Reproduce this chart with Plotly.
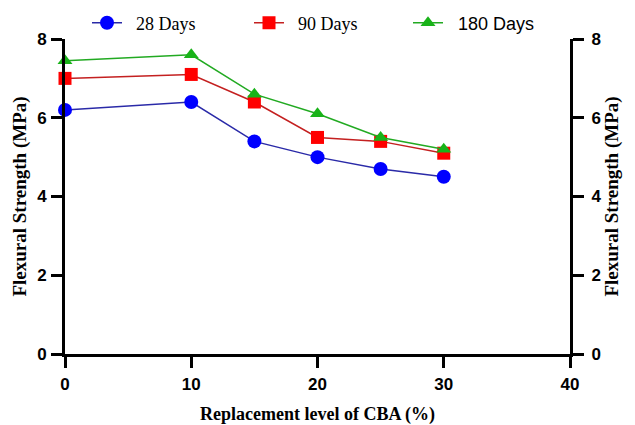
import plotly.graph_objects as go

replacement = [0, 10, 15, 20, 25, 30]
days28 = [6.2, 6.4, 5.4, 5.0, 4.7, 4.5]
days90 = [7.0, 7.1, 6.4, 5.5, 5.4, 5.1]
days180 = [7.45, 7.6, 6.6, 6.1, 5.5, 5.2]

serif = "Liberation Serif, Times New Roman, serif"
sans = "Liberation Sans, Arial, sans-serif"

fig = go.Figure()
fig.add_trace(go.Scatter(x=replacement, y=days28, name="&nbsp;&nbsp;28 Days", mode="lines+markers",
                         line=dict(color="#2a2aa8", width=1.5), legend="legend",
                         marker=dict(symbol="circle", size=14, color="#0000ff"), cliponaxis=False))
fig.add_trace(go.Scatter(x=replacement, y=days90, name="&nbsp;&nbsp;90 Days", mode="lines+markers",
                         line=dict(color="#c42020", width=1.5), legend="legend2",
                         marker=dict(symbol="square", size=13, color="#ff0000"), cliponaxis=False))
fig.add_trace(go.Scatter(x=replacement, y=days180, name="&nbsp;&nbsp;180 Days", mode="lines+markers",
                         line=dict(color="#22aa22", width=1.5), legend="legend3",
                         marker=dict(symbol="triangle-up", size=13, color="#19b319"), cliponaxis=False))
# helper trace so the right-hand axis is drawn
fig.add_trace(go.Scatter(x=replacement, y=days28, yaxis="y2", mode="lines", opacity=0,
                         showlegend=False, hoverinfo="skip"))

tickfont = dict(family=sans, size=17, color="black", weight="bold")
titlefont = dict(family=serif, size=18, color="black", weight="bold")
ytitlefont = dict(family=serif, size=19, color="black", weight="bold")
axis_common = dict(showline=True, linecolor="black", linewidth=3, ticks="outside",
                   ticklen=11, tickwidth=3, tickcolor="black", showgrid=False,
                   zeroline=False, tickfont=tickfont)

leg_common = dict(orientation="h", xref="container", yref="container",
                  xanchor="left", yanchor="middle", y=1 - 23 / 425,
                  bgcolor="rgba(0,0,0,0)", borderwidth=0)

fig.update_layout(
    width=635, height=425,
    margin=dict(l=65, r=65, t=39, b=71, autoexpand=False),
    plot_bgcolor="white", paper_bgcolor="white",
    xaxis=dict(range=[0, 40], tickvals=[0, 10, 20, 30, 40], ticklabelstandoff=2,
               title=dict(text="Replacement level of CBA (%)", font=titlefont, standoff=18),
               **axis_common),
    yaxis=dict(range=[0, 8], tickvals=[0, 2, 4, 6, 8], ticklabelstandoff=1,
               title=dict(text="Flexural Strength (MPa)", font=ytitlefont, standoff=6),
               **axis_common),
    yaxis2=dict(range=[0, 8], tickvals=[0, 2, 4, 6, 8], overlaying="y", side="right",
                ticklabelstandoff=4,
                title=dict(text="Flexural Strength (MPa)", font=ytitlefont, standoff=4),
                **axis_common),
    legend=dict(x=87 / 635, font=dict(family=serif, size=18, color="black"), **leg_common),
    legend2=dict(x=249 / 635, font=dict(family=serif, size=18, color="black"), **leg_common),
    legend3=dict(x=408 / 635, font=dict(family=sans, size=18, color="black"), **leg_common),
    showlegend=True,
)

fig.write_html("out.html", config={"displayModeBar": False},
               post_script="document.body.style.margin='0';")
